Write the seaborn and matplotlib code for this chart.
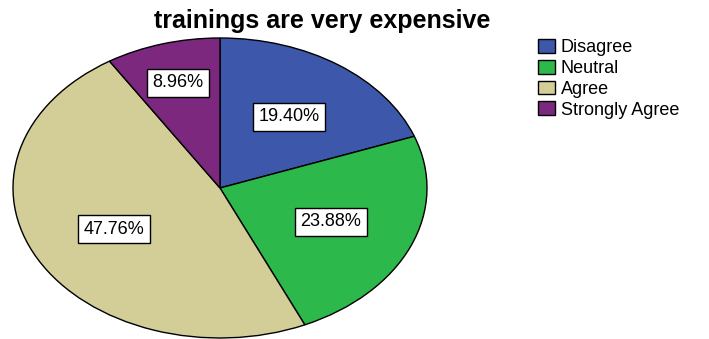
import numpy as np
import matplotlib
matplotlib.use("Agg")
import matplotlib.pyplot as plt
import seaborn as sns

categories = ["Disagree", "Neutral", "Agree", "Strongly Agree"]
percentages = [19.40, 23.88, 47.76, 8.96]
colors_hex = ["#3D57AB", "#2DB84B", "#D3CE98", "#7C287E"]
title = "trainings are very expensive"

sns.set_style("white")
plt.rcParams["font.family"] = ["Liberation Sans", "DejaVu Sans"]
plt.rcParams["text.color"] = "black"
palette = sns.color_palette(colors_hex)

fig = plt.figure(figsize=(7.09, 3.39), dpi=100)
ax = fig.add_axes([13 / 709, 1 / 339, 414 / 709, 300 / 339])

wedges, texts, autotexts = ax.pie(
    percentages,
    colors=palette,
    startangle=90,
    counterclock=False,
    autopct=lambda p: f"{p:.2f}%",
    pctdistance=0.58,
    wedgeprops=dict(edgecolor="black", linewidth=1.0),
    textprops=dict(fontsize=13, color="black"),
)
for t in autotexts:
    t.set_bbox(dict(boxstyle="square,pad=0.3", facecolor="white", edgecolor="black", linewidth=1.0))

# push the small wedge's label further out
w = wedges[3]
ang = np.deg2rad((w.theta1 + w.theta2) / 2)
autotexts[3].set_position((0.73 * np.cos(ang), 0.73 * np.sin(ang)))

ax.set_aspect("auto")
ax.set_xlim(-1, 1)
ax.set_ylim(-1, 1)
ax.axis("off")

fig.text(322 / 709, 1 - 21 / 339, title, ha="center", va="center",
         fontsize=18, fontweight="bold", color="black")

leg = fig.legend(
    wedges, categories,
    loc="upper left", bbox_to_anchor=(538 / 709, 1 - 39 / 339),
    frameon=False, fontsize=13, borderpad=0, borderaxespad=0,
    handlelength=0.95, handleheight=0.8, handletextpad=0.3,
    labelspacing=0.2,
)
for txt in leg.get_texts():
    txt.set_color("black")

fig.savefig("out.png", dpi=100)
